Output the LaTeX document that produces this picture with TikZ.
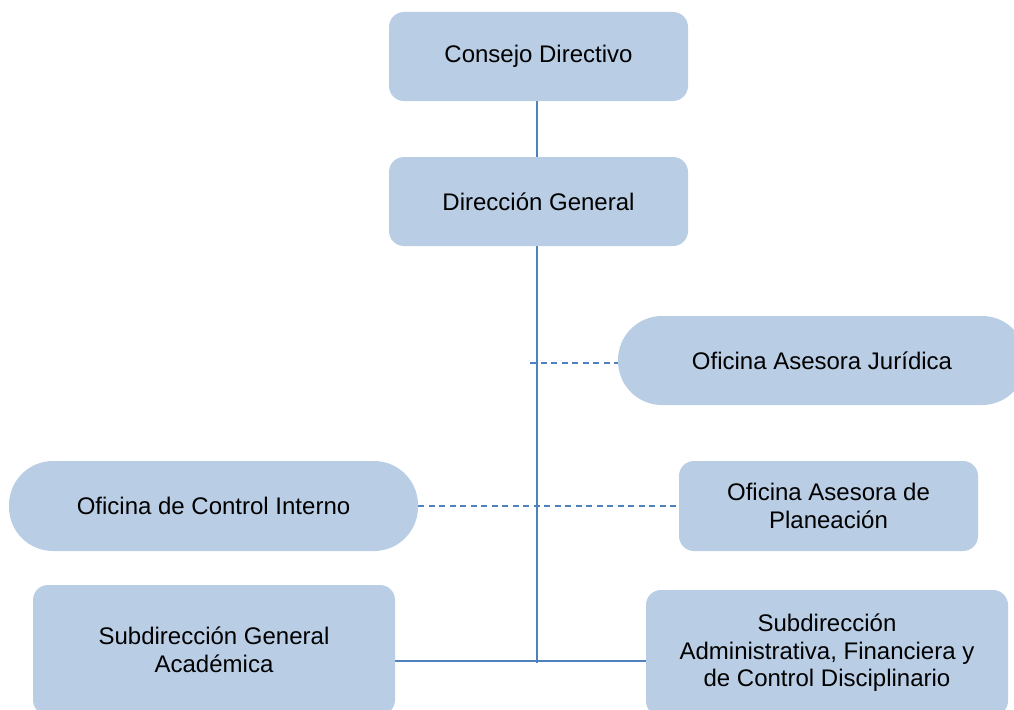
\documentclass[tikz,border=0pt]{standalone}
\usepackage{fontspec}
\setmainfont{Liberation Sans}
\usetikzlibrary{backgrounds}
\definecolor{boxfill}{HTML}{B9CDE5}
\definecolor{linkblue}{HTML}{4F81BD}
\begin{document}
\begin{tikzpicture}[x=1pt,y=-1pt,
  unit/.style={fill=boxfill, draw=none, rounded corners=15pt, inner sep=0pt,
    align=center, font=\fontsize{24}{27.6}\selectfont},
  pill/.style={unit, rounded corners=44pt},
  link/.style={draw=linkblue, line width=2.2pt},
  dashlink/.style={draw=linkblue, line width=2.2pt, dash pattern=on 6pt off 4.5pt}]
\useasboundingbox (0,0) rectangle (1014,709);
\clip (0,0) rectangle (1014,709);
\node[unit, minimum width=299pt, minimum height=89pt] (cd) at (538.5,56.5) {Consejo Directivo};
\node[unit, minimum width=299pt, minimum height=89pt] (dg) at (538.5,201.5) {Dirección General};
\node[pill, minimum width=408pt, minimum height=89pt] (oaj) at (822,360.5) {Oficina Asesora Jurídica};
\node[pill, minimum width=409pt, minimum height=90pt] (oci) at (213.5,506) {Oficina de Control Interno};
\node[unit, minimum width=299pt, minimum height=90pt] (oap) at (828.5,506) {Oficina Asesora de\\Planeación};
\node[unit, minimum width=362pt, minimum height=130pt] (sga) at (214,650) {Subdirección General\\Académica};
\node[unit, minimum width=362pt, minimum height=126pt] (sad) at (827,653) {Subdirección\\Administrativa, Financiera y\\de Control Disciplinario};
\coordinate (hb) at (537,661);
\coordinate (vb) at (537,663);
\coordinate (js) at (530,363);
\begin{scope}[on background layer]
\draw[link] (cd.south -| vb) -- (dg.north -| vb);
\draw[link] (dg.south -| vb) -- (vb);
\draw[link] (sga.east |- hb) -- (sad.west |- hb);
\draw[dashlink] (js) -- (js -| oaj.west);
\draw[dashlink] (oci.east) -- (oap.west);
\end{scope}
\end{tikzpicture}
\end{document}
